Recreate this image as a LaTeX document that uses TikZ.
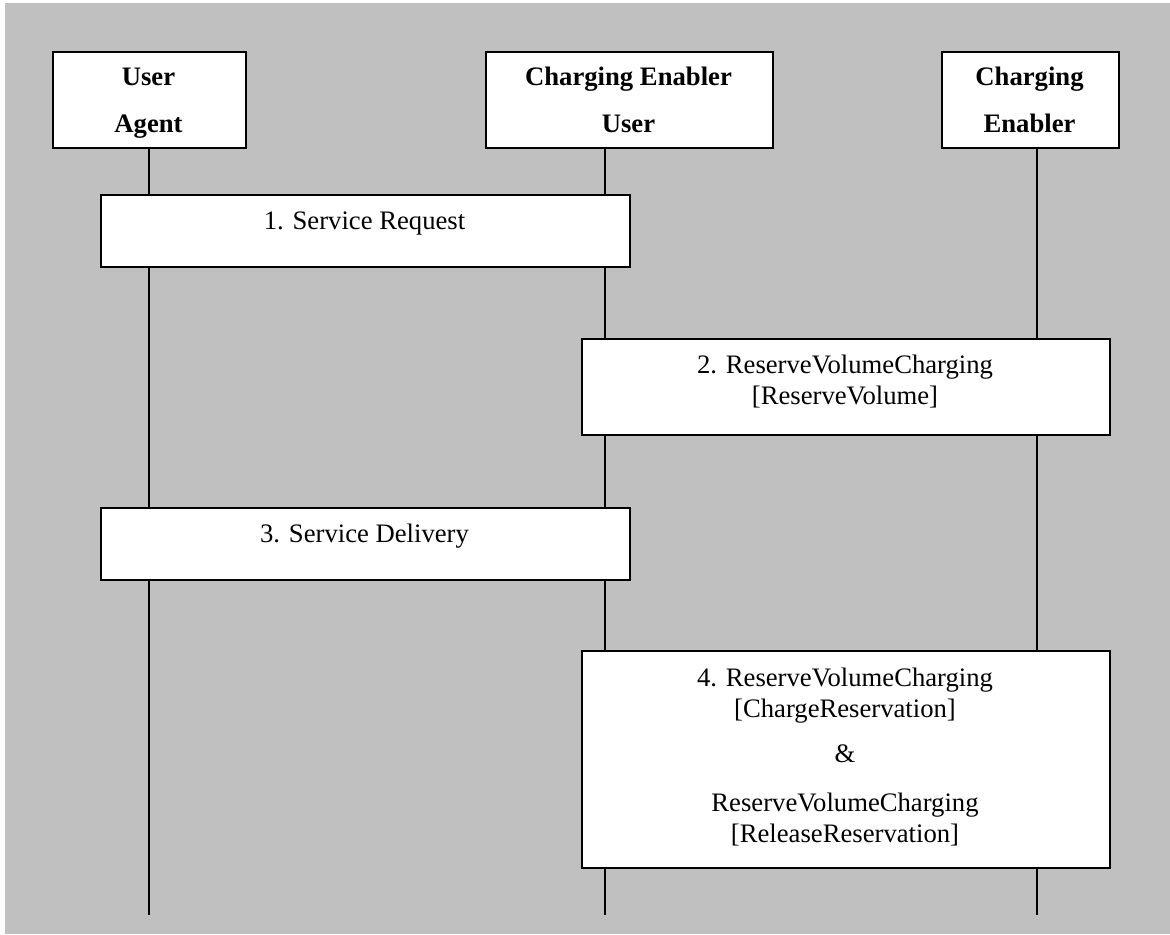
\documentclass[tikz,border=0pt]{standalone}
\usepackage{fontspec}
\setmainfont{Liberation Serif}
\definecolor{bggray}{HTML}{C0C0C0}
\begin{document}
\begin{tikzpicture}[x=0.45pt,y=-0.45pt,
  box/.style={draw=black,fill=white,line width=0.9pt,rectangle,inner sep=0pt,anchor=north west},
  hdrtext/.style={inner sep=0pt,anchor=north,align=center,font=\bfseries\fontsize{12pt}{21.15pt}\selectfont},
  msgtext/.style={inner sep=0pt,anchor=north,align=center,font=\fontsize{12pt}{14pt}\selectfont},
  life/.style={draw=black,line width=0.9pt}]
\useasboundingbox (0,0) rectangle (1170,934);
\fill[white] (0,0) rectangle (1170,934);
\fill[bggray] (5,3) rectangle (1170,934);
% headers
\node[box,minimum width=86.85pt,minimum height=43.2pt] (ua) at (52,50.7) {};
\node[box,minimum width=129.15pt,minimum height=43.2pt] (ceu) at (485,50.7) {};
\node[box,minimum width=79.8pt,minimum height=43.2pt] (ce) at (940.7,50.7) {};
\node[hdrtext] (uat) at (148.5,63.3) {\rule{0pt}{10pt}User\\Agent};
\node[hdrtext] (ceut) at (628.5,62.8) {\rule{0pt}{10pt}Charging Enabler\\User};
\node[hdrtext] (cet) at (1029.5,62.8) {\rule{0pt}{10pt}Charging\\Enabler};
% lifelines
\coordinate (uaend) at (149,915);
\coordinate (ceuend) at (605,915);
\coordinate (ceend) at (1037,915);
\draw[life] (ua.south -| uaend) -- (uaend);
\draw[life] (ceu.south -| ceuend) -- (ceuend);
\draw[life] (ce.south -| ceend) -- (ceend);
% messages
\node[box,minimum width=238.05pt,minimum height=32.6pt] (m1) at (100,194) {};
\node[box,minimum width=237.6pt,minimum height=43.2pt] (m2) at (581,338) {};
\node[box,minimum width=238.05pt,minimum height=32.4pt] (m3) at (100,507) {};
\node[box,minimum width=237.6pt,minimum height=97.65pt] (m4) at (581,650) {};
\node[msgtext] (m1t) at (364.5,206.8) {\rule{0pt}{10pt}1. Service Request};
\node[msgtext] (m2t) at (845,350.8) {\rule{0pt}{10pt}2. ReserveVolumeCharging\\{}[ReserveVolume]};
\node[msgtext] (m3t) at (364.5,519.8) {\rule{0pt}{10pt}3. Service Delivery};
\node[msgtext] (m4t) at (845,663.8) {\rule{0pt}{10pt}4. ReserveVolumeCharging\\{}[ChargeReservation]\\[6.25pt]\&\\[8pt]ReserveVolumeCharging\\{}[ReleaseReservation]};
\end{tikzpicture}
\end{document}
